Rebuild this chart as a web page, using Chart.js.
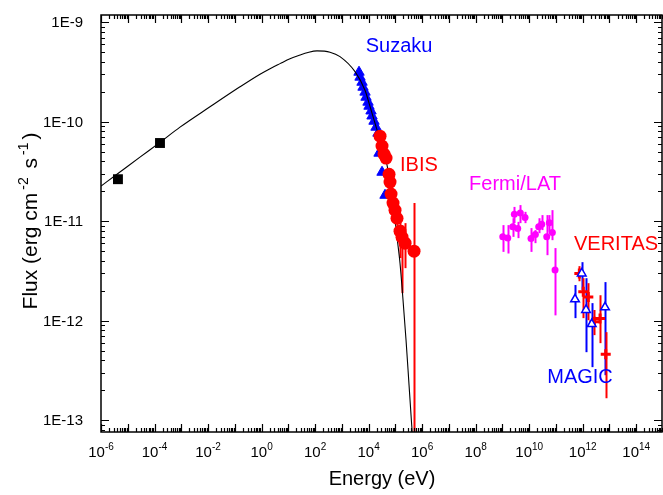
<!DOCTYPE html>
<html>
<head>
<meta charset="utf-8">
<title>SED</title>
<style>
html, body { margin: 0; padding: 0; background: #fff; }
</style>
<script src="https://cdn.jsdelivr.net/npm/chart.js@4.4.1/dist/chart.umd.min.js"></script>
</head>
<body>
<canvas id="sedChart" width="663" height="495"></canvas>
<script>
// Model curve (energy in eV, flux in erg cm^-2 s^-1)
const modelE = [1e-6, 4.3e-6, 2.86e-5, 1.6e-4, 8.95e-4, 0.0118, 0.156, 0.875, 2.07, 4.89, 11.56, 27.4, 54.4, 118, 361, 853,
    3100, 7330, 1.13e4, 1.73e4, 3.17e4, 4.88e4, 8.17e4, 1.15e5, 1.49e5, 1.93e5, 2.5e5, 3.24e5, 4.57e5];
const modelF = [2.25e-11, 3.01e-11, 4.40e-11, 6.19e-11, 8.8e-11, 1.41e-10, 2.24e-10, 3.0e-10, 3.41e-10, 3.83e-10, 4.29e-10, 4.68e-10, 4.96e-10, 5.14e-10, 4.99e-10, 4.50e-10,
    3.18e-10, 2.07e-10, 1.42e-10, 9.66e-11, 5.55e-11, 3.66e-11, 1.52e-11, 6.9e-12, 3.78e-12, 1.61e-12, 6.4e-13, 2.25e-13, 5.6e-14];

// Radio points
const radioE = [4.3e-6, 1.6e-4];
const radioF = [2.64e-11, 6.1e-11];

// Suzaku
const suzakuE = [4375, 4775, 5667, 6180, 7330, 8000, 9500, 1.035e4, 1.23e4, 1.34e4, 1.59e4, 1.89e4, 2.24e4, 2.45e4, 3.17e4, 4.1e4];
const suzakuF = [3.14e-10, 2.80e-10, 2.49e-10, 2.22e-10, 1.98e-10, 1.76e-10, 1.57e-10, 1.43e-10, 1.28e-10, 1.14e-10, 1.01e-10, 8.8e-11, 7.66e-11, 4.82e-11, 3.1e-11, 1.82e-11];

// IBIS
const ibisE = [2.67e4, 3.17e4, 3.77e4, 4.48e4, 5.8e4, 6.31e4, 6.88e4, 8.17e4, 9.7e4, 1.15e5, 1.49e5, 1.77e5, 2.30e5, 4.98e5];
const ibisF = [7.15e-11, 5.68e-11, 4.71e-11, 4.30e-11, 2.96e-11, 2.47e-11, 1.87e-11, 1.52e-11, 1.29e-11, 1.07e-11, 7.93e-12, 6.9e-12, 6.0e-12, 4.99e-12];
const ibisLo = [null, null, null, null, null, null, null, null, null, 8.6e-12, 4.25e-12, 1.89e-12, 3.37e-12, 1e-14];
const ibisHi = [null, null, null, null, null, null, null, null, null, 1.3e-11, 9.77e-12, 9.1e-12, 9.55e-12, 1.52e-11];

// Fermi/LAT
const fermiE = [1.03e9, 1.58e9, 2.43e9, 2.79e9, 3.73e9, 4.67e9, 7.0e9, 1.17e10, 1.70e10, 2.27e10, 2.94e10, 4.53e10, 5.66e10, 7.33e10, 9.25e10];
const fermiF = [6.95e-12, 6.79e-12, 8.77e-12, 1.17e-11, 8.45e-12, 1.21e-11, 1.09e-11, 6.70e-12, 7.34e-12, 8.77e-12, 9.33e-12, 6.95e-12, 9.62e-12, 7.69e-12, 3.22e-12];
const fermiLo = [4.91e-12, 4.73e-12, 6.95e-12, 9.55e-12, 6.75e-12, 9.55e-12, 9.55e-12, 4.91e-12, 6.01e-12, 7.57e-12, 8.13e-12, 4.55e-12, 7.81e-12, 6.44e-12, 1.13e-12];
const fermiHi = [9.12e-12, 9.12e-12, 1.07e-11, 1.39e-11, 9.84e-12, 1.45e-11, 1.24e-11, 8.51e-12, 8.13e-12, 1.07e-11, 1.15e-11, 1.15e-11, 1.15e-11, 1.29e-11, 5.36e-12];

// VERITAS
const veritasE = [7.48e11, 1.05e12, 1.62e12, 2.72e12, 4.44e12, 7.24e12];
const veritasF = [2.98e-12, 1.95e-12, 1.73e-12, 9.72e-13, 1.05e-12, 4.60e-13];
const veritasLo = [2.49e-12, 1.06e-12, 1.01e-12, 7.15e-13, 5.94e-13, 1.66e-13];
const veritasHi = [3.53e-12, 2.67e-12, 2.38e-12, 1.28e-12, 1.80e-12, 7.66e-13];

// MAGIC
const magicE = [5.16e11, 9.19e11, 1.33e12, 2.17e12, 6.82e12];
const magicF = [1.64e-12, 2.98e-12, 1.28e-12, 9.23e-13, 1.36e-12];
const magicLo = [1.06e-12, 2.03e-12, 4.82e-13, 3.41e-13, 2.83e-13];
const magicHi = [2.28e-12, 3.87e-12, 2.67e-12, 1.50e-12, 2.44e-12];

// Instrument labels
const labelText = ['Suzaku', 'IBIS', 'Fermi/LAT', 'VERITAS', 'MAGIC'];
const labelE = [1.37e5, 7.6e5, 2.96e9, 1.76e13, 7.94e11];
const labelF = [5.74e-10, 3.66e-11, 2.36e-11, 5.87e-12, 2.7e-13];
const labelColor = ['#0000ff', '#ff0000', '#ff00ff', '#ff0000', '#0000ff'];

const xMin = 1e-6, xMax = 1e15;
const yMin = 7.6e-14, yMax = 1.18e-9;

const FONT = '"Liberation Sans", Arial, sans-serif';

function pts(xs, ys) {
    return xs.map((x, i) => ({ x: x, y: ys[i] }));
}

// Error bars, ticks, labels and frame
const sedPlugin = {
    id: 'sedPlugin',
    beforeDatasetsDraw(chart) {
        const ctx = chart.ctx;
        const xs = chart.scales.x, ys = chart.scales.y;
        const a = chart.chartArea;
        ctx.save();
        ctx.beginPath();
        ctx.rect(a.left, a.top, a.right - a.left, a.bottom - a.top);
        ctx.clip();
        chart.data.datasets.forEach(ds => {
            if (!ds.errLo) return;
            ctx.strokeStyle = ds.errColor;
            ctx.lineWidth = 2;
            ds.data.forEach((p, i) => {
                if (ds.errLo[i] == null) return;
                const px = Math.round(xs.getPixelForValue(p.x)) + 0.5;
                ctx.beginPath();
                ctx.moveTo(px, ys.getPixelForValue(ds.errLo[i]));
                ctx.lineTo(px, ys.getPixelForValue(ds.errHi[i]));
                ctx.stroke();
            });
        });
        ctx.restore();
    },
    afterDraw(chart) {
        const ctx = chart.ctx;
        const xs = chart.scales.x, ys = chart.scales.y;
        const a = chart.chartArea;
        ctx.save();
        ctx.strokeStyle = '#000';
        ctx.fillStyle = '#000';
        ctx.lineWidth = 1.5;
        ctx.strokeRect(a.left, a.top, a.right - a.left - 1, a.bottom - a.top);

        // x ticks
        ctx.lineWidth = 1.2;
        for (let n = -6; n <= 14; n++) {
            for (let k = 1; k <= 9; k++) {
                const v = k * Math.pow(10, n);
                const px = Math.round(xs.getPixelForValue(v)) + 0.5;
                if (px < a.left || px > a.right) continue;
                const len = k === 1 ? 8 : 4;
                ctx.beginPath();
                ctx.moveTo(px, a.bottom); ctx.lineTo(px, a.bottom - len);
                ctx.moveTo(px, a.top); ctx.lineTo(px, a.top + len);
                ctx.stroke();
            }
            if (n % 2 === 0) {
                const px = xs.getPixelForValue(Math.pow(10, n));
                ctx.font = '15px ' + FONT;
                const wb = ctx.measureText('10').width;
                ctx.font = '10px ' + FONT;
                const we = ctx.measureText(String(n)).width;
                const x0 = px - (wb + we) / 2;
                ctx.textBaseline = 'alphabetic';
                ctx.textAlign = 'left';
                ctx.font = '15px ' + FONT;
                ctx.fillText('10', x0, a.bottom + 25);
                ctx.font = '10px ' + FONT;
                ctx.fillText(String(n), x0 + wb, a.bottom + 18);
            }
        }

        // y ticks
        for (let n = -14; n <= -9; n++) {
            for (let k = 1; k <= 9; k++) {
                const v = k * Math.pow(10, n);
                const py = Math.round(ys.getPixelForValue(v)) + 0.5;
                if (py < a.top || py > a.bottom) continue;
                const len = k === 1 ? 8 : 4;
                ctx.beginPath();
                ctx.moveTo(a.left, py); ctx.lineTo(a.left + len, py);
                ctx.moveTo(a.right - 1, py); ctx.lineTo(a.right - 1 - len, py);
                ctx.stroke();
            }
            const py = ys.getPixelForValue(Math.pow(10, n));
            if (py >= a.top && py <= a.bottom) {
                ctx.font = '15px ' + FONT;
                ctx.textAlign = 'right';
                ctx.textBaseline = 'middle';
                ctx.fillText('1E' + n, a.left - 18, py + 1);
            }
        }

        // axis titles
        ctx.font = '20px ' + FONT;
        ctx.textAlign = 'center';
        ctx.textBaseline = 'middle';
        ctx.fillText('Energy (eV)', (a.left + a.right) / 2, 479);

        // rotated y title with superscripts
        ctx.save();
        ctx.translate(29, 221);
        ctx.rotate(-Math.PI / 2);
        const parts = [['Flux (erg cm', false], ['-2', true], [' s', false], ['-1', true], [')', false]];
        const gap = 3;
        let total = 0;
        parts.forEach(p => {
            ctx.font = (p[1] ? '14px ' : '21px ') + FONT;
            total += ctx.measureText(p[0]).width + (p[1] ? 2 * gap : 0);
        });
        let cx = -total / 2;
        ctx.textAlign = 'left';
        ctx.textBaseline = 'alphabetic';
        parts.forEach(p => {
            ctx.font = (p[1] ? '14px ' : '21px ') + FONT;
            if (p[1]) cx += gap;
            ctx.fillText(p[0], cx, p[1] ? -1 : 8);
            cx += ctx.measureText(p[0]).width + (p[1] ? gap : 0);
        });
        ctx.restore();

        // instrument labels
        ctx.font = '20px ' + FONT;
        ctx.textAlign = 'center';
        ctx.textBaseline = 'middle';
        labelText.forEach((t, i) => {
            ctx.fillStyle = labelColor[i];
            ctx.fillText(t, xs.getPixelForValue(labelE[i]), ys.getPixelForValue(labelF[i]));
        });
        ctx.restore();
    }
};

const ctx = document.getElementById('sedChart').getContext('2d');

new Chart(ctx, {
    type: 'scatter',
    data: {
        datasets: [
            {
                label: 'MAGIC',
                data: pts(magicE, magicF),
                errLo: magicLo, errHi: magicHi, errColor: '#0000ff',
                pointStyle: 'triangle',
                pointRadius: 5,
                backgroundColor: '#ffffff',
                borderColor: '#0000ff',
                borderWidth: 1.5,
                order: 1
            },
            {
                label: 'VERITAS',
                data: pts(veritasE, veritasF),
                errLo: veritasLo, errHi: veritasHi, errColor: '#ff0000',
                pointStyle: 'cross',
                pointRadius: 5,
                backgroundColor: '#ff0000',
                borderColor: '#ff0000',
                borderWidth: 3,
                order: 2
            },
            {
                label: 'Fermi/LAT',
                data: pts(fermiE, fermiF),
                errLo: fermiLo, errHi: fermiHi, errColor: '#ff00ff',
                pointStyle: 'circle',
                pointRadius: 3.5,
                backgroundColor: '#ff00ff',
                borderColor: '#ff00ff',
                borderWidth: 0,
                order: 3
            },
            {
                label: 'IBIS',
                data: pts(ibisE, ibisF),
                errLo: ibisLo, errHi: ibisHi, errColor: '#ff0000',
                pointStyle: 'circle',
                pointRadius: 6.5,
                backgroundColor: '#ff0000',
                borderColor: '#ff0000',
                borderWidth: 0,
                order: 4
            },
            {
                label: 'Model',
                data: pts(modelE, modelF),
                showLine: true,
                cubicInterpolationMode: 'monotone',
                borderColor: '#000000',
                borderWidth: 1.1,
                pointRadius: 0,
                order: 5
            },
            {
                label: 'Suzaku',
                data: pts(suzakuE, suzakuF),
                pointStyle: 'triangle',
                pointRadius: 6,
                backgroundColor: '#0000ff',
                borderColor: '#0000ff',
                borderWidth: 1,
                order: 6
            },
            {
                label: 'Radio',
                data: pts(radioE, radioF),
                pointStyle: 'rect',
                pointRadius: 7,
                backgroundColor: '#000000',
                borderColor: '#000000',
                borderWidth: 0,
                order: 7
            }
        ]
    },
    options: {
        responsive: false,
        animation: false,
        layout: { autoPadding: false, padding: { top: 15, right: 0, left: 0, bottom: 0 } },
        plugins: {
            legend: { display: false },
            tooltip: { enabled: false }
        },
        scales: {
            x: {
                type: 'logarithmic',
                min: xMin,
                max: xMax,
                ticks: { display: false },
                grid: { display: false },
                border: { display: false },
                afterFit: s => { s.height = 63; }
            },
            y: {
                type: 'logarithmic',
                min: yMin,
                max: yMax,
                ticks: { display: false },
                grid: { display: false },
                border: { display: false },
                afterFit: s => { s.width = 101; }
            }
        }
    },
    plugins: [sedPlugin]
});
</script>
</body>
</html>
